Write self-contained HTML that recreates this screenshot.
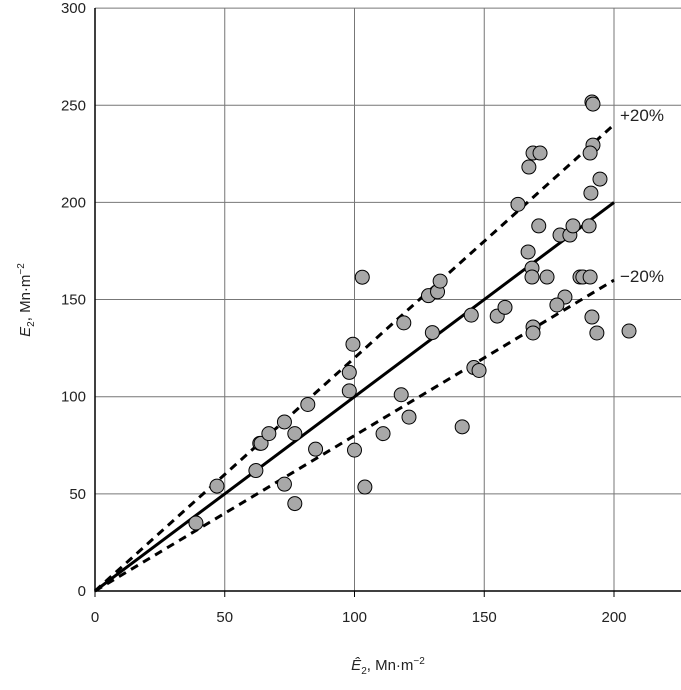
<!DOCTYPE html>
<html><head><meta charset="utf-8"><style>
body{margin:0;background:#fff}
svg text{font-family:"Liberation Sans",sans-serif;fill:#222}
</style></head><body>
<svg id="chart" width="681" height="685" xmlns="http://www.w3.org/2000/svg">
<g id="grid"></g><g id="lines"></g><g id="pts"></g><g id="ticks"></g>
<text x="620" y="121" font-size="17">+20%</text>
<text x="620" y="282" font-size="17">−20%</text>
<text transform="translate(30,300) rotate(-90)" text-anchor="middle" font-size="15"><tspan font-style="italic">E</tspan><tspan font-size="10" dy="4">2</tspan><tspan dy="-4">, Mn·m</tspan><tspan font-size="10" dy="-6">−2</tspan></text>
<text x="388" y="670" text-anchor="middle" font-size="15"><tspan font-style="italic">Ê</tspan><tspan font-size="10" dy="4">2</tspan><tspan dy="-4">, Mn·m</tspan><tspan font-size="10" dy="-6">−2</tspan></text>
</svg>
<script>
const xTicks=[0,50,100,150,200];
const yTicks=[0,50,100,150,200,250,300];
const xs=[38.9,47,62,63.5,64,67,73,73,77,77,82,85,98,98,99.4,100,103,104,111,118,119,121,128.5,130,132,133,141.5,145,146,148,155,158,163,168.8,171.5,167.2,191.5,191.9,191.9,190.8,194.6,191.1,171,179.2,183,184.2,190.4,166.9,168.4,168.4,174.2,186.9,188,190.8,181.1,178,191.5,168.8,168.8,193.4,205.8];
const ys=[35,54,62,76,76,81,87,55,81,45,96,73,112.5,103,127,72.5,161.5,53.5,81,101,138,89.5,152,133,154,159.5,84.5,142,115,113.5,141.5,146,199,225.4,225.4,218.2,251.7,250.6,229.5,225.4,212,204.8,187.9,183.2,183.2,187.9,187.9,174.5,166.2,161.6,161.6,161.6,161.6,161.6,151.3,147.2,141,135.9,132.8,132.8,133.8];
const refLines=[{f:1,dash:null},{f:1.2,dash:"8,6"},{f:0.8,dash:"8,6"}];
const X=v=>95+v*2.595, Y=v=>591-v*1.943;
const NS="http://www.w3.org/2000/svg";
function mk(p,t,a){const e=document.createElementNS(NS,t);for(const k in a)e.setAttribute(k,a[k]);document.getElementById(p).appendChild(e);return e;}
yTicks.forEach(v=>{if(v>0){const l=mk('grid','line',{x1:95,x2:681,y1:Y(v),y2:Y(v),stroke:'#777','stroke-width':1});

}
const t=mk('ticks','text',{x:86,y:Y(v)+5,'text-anchor':'end','font-size':15});t.textContent=v;

});
xTicks.forEach(v=>{if(v>0){const l=mk('grid','line',{x1:X(v),x2:X(v),y1:8,y2:591,stroke:'#777','stroke-width':1});

}
const t=mk('ticks','text',{x:X(v),y:622,'text-anchor':'middle','font-size':15});t.textContent=v;


const tk=mk('grid','line',{x1:X(v),x2:X(v),y1:591,y2:597,stroke:'#000'});

});
const ax=mk('grid','path',{d:'M95,8 V591 H681',fill:'none',stroke:'#000','stroke-width':1.5});


refLines.forEach(r=>{const a={x1:X(0),y1:Y(0),x2:X(200),y2:Y(200*r.f),stroke:'#000','stroke-width':3};if(r.dash)a['stroke-dasharray']=r.dash;
const l=mk('lines','line',a);

});
xs.forEach((x,i)=>{const c=mk('pts','circle',{cx:X(x),cy:Y(ys[i]),r:7,fill:'#a8a8a8',stroke:'#000','stroke-width':1});

});
</script>
</body></html>
